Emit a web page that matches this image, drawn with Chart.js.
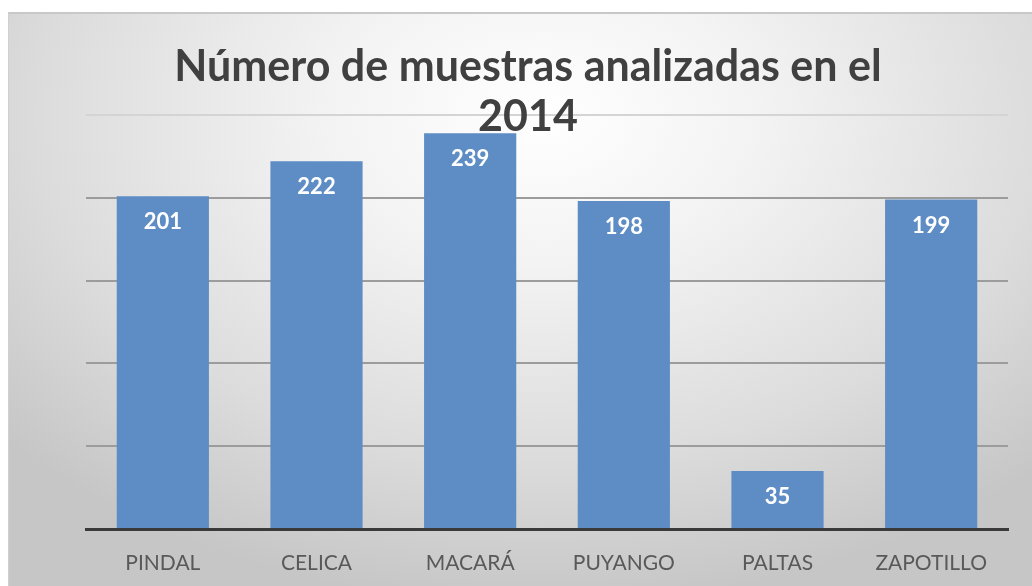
<!DOCTYPE html>
<html>
<head>
<meta charset="utf-8">
<script src="https://cdn.jsdelivr.net/npm/chart.js@4/dist/chart.umd.min.js"></script>
<style>
  html, body { margin: 0; padding: 0; background: #fff; }
  #wrap { position: absolute; left: 0; top: 0; width: 1032px; height: 586px; }
  #bg { position: absolute; left: 8px; top: 12px; width: 1024px; height: 574px;
        border-top: 2px solid #c8c8c8; border-left: 1px solid #d0d0d0;
        background: radial-gradient(ellipse 70% 85% at 52% 18%, #ffffff 0%, #f3f3f3 30%, #dcdcdc 70%, #c6c6c6 100%); }
  canvas { position: absolute; left: 0; top: 0; }
</style>
</head>
<body>
<div id="wrap"><div id="bg"></div><canvas id="c" width="1032" height="586"></canvas></div>
<script>
const categories = ['PINDAL', 'CELICA', 'MACARÁ', 'PUYANGO', 'PALTAS', 'ZAPOTILLO'];
const values = [201, 222, 239, 198, 35, 199];
const titleLines = ['Número de muestras analizadas en el', '2014'];

const titlePlugin = {
  id: 'overTitle',
  afterDraw(chart) {
    const ctx = chart.ctx;
    ctx.save();
    ctx.fillStyle = '#404040';
    ctx.font = 'bold 43px Lato';
    ctx.textAlign = 'center';
    ctx.textBaseline = 'middle';
    const cx = chart.width / 2 + 12;
    ctx.fillText(titleLines[0], cx, 67);
    ctx.fillText(titleLines[1], cx, 117);
    ctx.restore();
  }
};

const labelPlugin = {
  id: 'barLabels',
  afterDatasetsDraw(chart) {
    const ctx = chart.ctx;
    const meta = chart.getDatasetMeta(0);
    ctx.save();
    ctx.fillStyle = '#ffffff';
    ctx.font = 'bold 22px Lato';
    ctx.textAlign = 'center';
    ctx.textBaseline = 'middle';
    meta.data.forEach((bar, i) => {
      ctx.fillText(String(values[i]), bar.x, bar.y + 26);
    });
    ctx.restore();
  }
};

new Chart(document.getElementById('c'), {
  type: 'bar',
  data: {
    labels: categories,
    datasets: [{
      data: values,
      backgroundColor: '#5e8dc5',
      borderWidth: 0,
      barPercentage: 0.6,
      categoryPercentage: 1.0
    }]
  },
  options: {
    responsive: false,
    animation: false,
    layout: { padding: { left: 86, right: 24, top: 115, bottom: 0 } },
    plugins: {
      legend: { display: false },
      title: { display: false },
      tooltip: { enabled: false }
    },
    scales: {
      x: {
        grid: { display: false },
        border: { display: true, color: '#3a3a3a', width: 3 },
        ticks: { color: '#595959', font: { family: 'Lato', size: 21 }, padding: 14 },
        afterFit(scale) { scale.height = 57; }
      },
      y: {
        min: 0, max: 250,
        ticks: { display: false, stepSize: 50 },
        border: { display: false },
        grid: {
          color: (c) => c.tick.value === 0 ? 'rgba(0,0,0,0)' : (c.tick.value === 250 ? '#d4d4d4' : '#9c9c9c'),
          lineWidth: 2,
          drawTicks: false
        }
      }
    }
  },
  plugins: [titlePlugin, labelPlugin]
});
</script>
</body>
</html>
